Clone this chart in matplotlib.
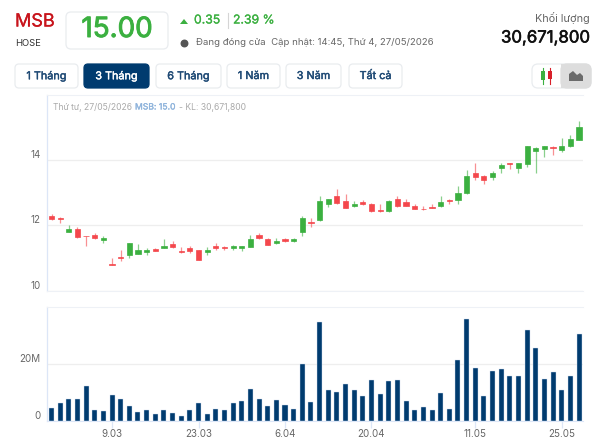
import matplotlib
matplotlib.use("Agg")
import matplotlib.pyplot as plt
import matplotlib.patheffects as pe
from matplotlib.patches import FancyBboxPatch, Polygon, Rectangle

W, H = 602, 438

highs = [12.36,12.26,12.0,11.95,11.69,11.76,11.67,11.02,11.25,11.47,11.42,11.32,11.32,11.58,11.51,11.33,11.37,11.26,11.35,11.47,
         11.38,11.41,11.37,11.72,11.76,11.62,11.61,11.61,11.61,12.27,12.21,12.89,12.80,13.11,12.94,12.74,12.76,12.69,12.66,12.76,12.89,
         12.79,12.65,12.59,12.65,12.89,12.81,13.20,13.69,13.91,13.54,13.64,13.90,13.90,13.90,14.43,14.38,14.43,14.42,14.67,14.75,15.18]
lows = [12.16,12.06,11.79,11.62,11.37,11.58,11.47,10.79,10.92,11.02,11.13,11.11,11.21,11.30,11.31,11.16,11.16,10.93,11.11,11.26,
        11.25,11.25,11.21,11.34,11.59,11.39,11.43,11.48,11.48,11.67,11.95,12.14,12.56,12.65,12.52,12.56,12.62,12.42,12.40,12.42,12.57,
        12.58,12.49,12.47,12.52,12.56,12.65,12.65,12.94,13.39,13.25,13.39,13.59,13.73,13.58,13.78,13.59,14.09,14.14,14.23,14.40,14.59]
opens = [12.27,12.22,11.79,11.90,11.69,11.71,11.56,10.83,11.03,11.10,11.14,11.19,11.27,11.31,11.42,11.21,11.32,11.25,11.19,11.37,
         11.34,11.31,11.31,11.35,11.71,11.57,11.45,11.58,11.51,11.80,12.11,12.15,12.64,12.89,12.75,12.59,12.71,12.65,12.46,12.44,12.79,
         12.70,12.60,12.51,12.57,12.59,12.77,12.78,12.97,13.59,13.50,13.46,13.76,13.90,13.75,13.88,14.26,14.31,14.39,14.30,14.41,14.60]
closes = [12.19,12.20,11.90,11.65,11.67,11.60,11.62,10.80,10.99,11.46,11.25,11.26,11.23,11.37,11.35,11.19,11.23,10.95,11.26,11.30,
          11.30,11.37,11.37,11.57,11.60,11.40,11.51,11.51,11.58,12.21,12.08,12.74,12.79,12.68,12.54,12.65,12.64,12.44,12.43,12.74,12.59,
          12.59,12.50,12.49,12.53,12.70,12.73,12.99,13.50,13.46,13.37,13.59,13.83,13.87,13.90,14.43,14.37,14.43,14.35,14.43,14.63,14.98]
volumes = [4.44,6.43,7.84,7.6,12.3,3.74,3.4,9.0,7.6,5.26,3.04,3.98,2.57,3.98,2.8,1.75,3.74,6.43,2.57,4.2,3.74,6.43,7.0,11.1,7.84,5.26,7.25,5.6,4.2,19.9,6.8,
           34.6,10.76,10.06,12.87,10.76,8.65,14.5,9.6,13.9,14.27,7.0,3.98,4.8,3.98,9.7,4.2,21.5,35.7,18.5,8.65,17.66,18.1,15.7,15.7,31.8,25.6,14.85,17.3,11.0,15.9,30.4]
tick_idx = [7, 17, 27, 37, 49, 59]
tick_labels = ["9.03", "23.03", "6.04", "20.04", "11.05", "25.05"]
price_ticks = [10, 12, 14]
vol_ticks = [0, 20]
vol_labels = ["0", "20M"]
ranges = ["1 Tháng", "3 Tháng", "6 Tháng", "1 Năm", "3 Năm", "Tất cả"]

GREEN, RED, NAVY = "#3bb040", "#f4474c", "#003b6f"
AXIS, GRID = "#dce6f7", "#eeeeee"
plt.rcParams["font.family"] = ["Inter", "DejaVu Sans"]

fig = plt.figure(figsize=(W / 100, H / 100), dpi=100)
bg = fig.add_axes([0, 0, 1, 1])
bg.set_xlim(0, W); bg.set_ylim(H, 0); bg.axis("off")

def box(x0, y0, x1, y1, fc="white", ec="#e9ecef", r=4, lw=0.9):
    bg.add_patch(FancyBboxPatch((x0 + r, y0 + r), x1 - x0 - 2 * r, y1 - y0 - 2 * r,
                                boxstyle=f"round,pad={r},rounding_size={r}", fc=fc, ec=ec, lw=lw))

def heavy(t, w=0.35):
    t.set_path_effects([pe.withStroke(linewidth=w, foreground=t.get_color())])
    return t

heavy(bg.text(15, 22, "MSB", color="#c8141c", fontsize=13, va="center"), 0.2)
bg.text(15, 44, "HOSE", color="#333333", fontsize=6.8, va="center")
box(66, 12, 168, 49, r=5)
heavy(bg.text(117, 30, "15.00", color=GREEN, fontsize=20, ha="center", va="center"), 0.7)
bg.add_patch(Polygon([[180, 24], [188, 24], [184, 19]], fc=GREEN))
heavy(bg.text(194, 20.5, "0.35", color=GREEN, fontsize=8.8, va="center"), 0.2)
bg.plot([228, 228], [13, 28], color="#d5d5d5", lw=0.8)
heavy(bg.text(233, 20.5, "2.39 %", color=GREEN, fontsize=8.8, va="center"), 0.2)
bg.scatter([184], [42.5], s=22, color="#555555")
bg.text(196, 42.5, "Đang đóng cửa  Cập nhật: 14:45, Thứ 4, 27/05/2026", color="#666666", fontsize=6.9, va="center")
bg.text(590, 18, "Khối lượng", color="#666666", fontsize=7.8, ha="right", va="center")
heavy(bg.text(590, 38, "30,671,800", color="#111111", fontsize=12.1, ha="right", va="center"), 0.4)

edges = [(15, 78), (84, 149), (156, 221), (227, 280), (286, 341), (349, 402)]
for i, (label, (x0, x1)) in enumerate(zip(ranges, edges)):
    active = i == 1
    box(x0, 64, x1, 88, fc=NAVY if active else "white", ec=NAVY if active else "#e9ecef", r=4)
    heavy(bg.text((x0 + x1) / 2, 76, label, color="white" if active else "#1f4a75", fontsize=7.8,
                  ha="center", va="center"), 0.3)
box(532, 64, 591, 88, r=6)
box(561, 64, 591, 88, fc="#dddddd", ec="#dddddd", r=6)
bg.add_patch(Rectangle((561, 64), 8, 24, fc="#dddddd", ec="none"))
bg.plot([542.5, 542.5], [68, 84], color=GREEN, lw=0.8)
bg.add_patch(Rectangle((540.5, 71), 4, 9, fc=GREEN))
bg.plot([550, 550], [68, 84], color="#d8202a", lw=0.8)
bg.add_patch(Rectangle((548, 71), 4, 8, fc="#d8202a"))
bg.add_patch(Polygon([[569, 81], [569, 74], [573, 71], [577, 75], [580, 73], [583, 76], [583, 81]], fc="#6b6b6b"))

def pixel_axes(x0, y0, x1, y1):
    return fig.add_axes([x0 / W, 1 - y1 / H, (x1 - x0) / W, (y1 - y0) / H])

AX_L, AX_R = 46.5, 583
xlim = ((AX_L - 51.5) / 8.648, (AX_R - 51.5) / 8.648)

pa = pixel_axes(AX_L, 94.5, AX_R, 291)
pa.set_xlim(*xlim)
pa.set_ylim(14 - (291 - 160) / 33, 14 + (160 - 94.5) / 33)
va = pixel_axes(AX_L, 306.7, AX_R, 421)
va.set_xlim(*xlim)
va.set_ylim(0, 20 * (421 - 306.7) / 57)
for ax in (pa, va):
    ax.patch.set_alpha(0)
    for s in ax.spines.values():
        s.set_visible(False)
    ax.spines["left"].set_visible(True)
    ax.spines["left"].set_color(AXIS)
    ax.spines["left"].set_linewidth(0.9)
    ax.spines["top"].set_visible(True)
    ax.spines["top"].set_color("#eef1f6")
    ax.spines["top"].set_linewidth(0.8)
    ax.spines["bottom"].set_visible(True)
    ax.spines["bottom"].set_color("#eef1f6" if ax is pa else AXIS)
    ax.spines["bottom"].set_linewidth(0.8)
    ax.set_axisbelow(True)
    ax.grid(axis="y", color=GRID, lw=0.9)
    ax.grid(axis="x", visible=False)

for i in range(len(highs)):
    col = GREEN if closes[i] >= opens[i] else RED
    pa.plot([i, i], [lows[i], highs[i]], color=col, lw=0.9, alpha=0.6, solid_capstyle="butt", zorder=2)
    pa.bar(i, abs(closes[i] - opens[i]), bottom=min(opens[i], closes[i]), width=0.6, color=col,
           edgecolor=col, linewidth=0.5, zorder=3)

pa.set_yticks(price_ticks)
pa.set_yticklabels([str(v) for v in price_ticks])
pa.set_xticks([])
pa.tick_params(axis="y", length=0, pad=4.5, labelsize=7, labelcolor="#666666")
for lab in pa.get_yticklabels():
    lab.set_verticalalignment("bottom")

va.bar(range(len(volumes)), volumes, width=0.58, color=NAVY, edgecolor="#cfdcf0", linewidth=0.3, zorder=3)
va.set_yticks(vol_ticks)
va.set_yticklabels(vol_labels)
va.tick_params(axis="y", length=0, pad=4.5, labelsize=7, labelcolor="#666666")
for lab in va.get_yticklabels():
    lab.set_verticalalignment("bottom")
va.set_xticks(tick_idx)
va.set_xticklabels(tick_labels)
va.tick_params(axis="x", length=5, width=0.9, color=AXIS, labelsize=7, labelcolor="#666666", pad=1)

bg.text(53, 107, "Thứ tư, 27/05/2026", color="#aaaaaa", fontsize=6.2, va="center")
heavy(bg.text(135, 107, "MSB: 15.0", color="#8fb4dc", fontsize=6.2, va="center"), 0.2)
bg.text(179, 107, "- KL: 30,671,800", color="#aaaaaa", fontsize=6.2, va="center")

fig.savefig("out.png", dpi=100)
